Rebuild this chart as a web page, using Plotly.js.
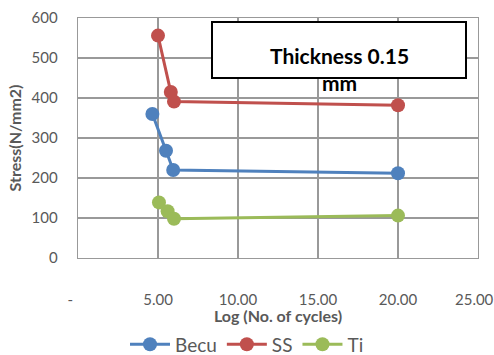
<!DOCTYPE html>
<html><head><meta charset="utf-8">
<script src="https://cdn.plot.ly/plotly-3.0.1.min.js"></script>
<style>html,body{margin:0;padding:0;background:#fff}#c{width:494px;height:355px}</style>
</head><body><div id="c"></div>
<script>
const becuX = [4.65, 5.5, 5.95, 20.0];
const becuY = [360, 268, 220, 212];
const ssX = [5.0, 5.8, 6.0, 20.0];
const ssY = [556, 415, 391, 382];
const tiX = [5.06, 5.6, 6.0, 20.0];
const tiY = [139, 117, 98, 106];
const xTickVals = [0, 5, 10, 15, 20, 25];
const xTickText = ["-\u00a0\u00a0\u00a0\u00a0", "5.00", "10.00", "15.00", "20.00", "25.00\u00a0\u00a0"];
const yTickVals = [0, 100, 200, 300, 400, 500, 600];

const F = "Lato, 'Open Sans', sans-serif";
function tr(x, y, name, color) {
  return {x: x, y: y, name: name, type: 'scatter', mode: 'lines+markers',
    line: {color: color, width: 3}, marker: {color: color, size: 14}};
}
const data = [
  tr(becuX, becuY, 'Becu', '#4F81BD'),
  tr(ssX, ssY, 'SS', '#C0504D'),
  tr(tiX, tiY, 'Ti', '#9BBB59')
];
const layout = {
  width: 494, height: 355,
  margin: {l: 78, r: 16, t: 18, b: 97},
  paper_bgcolor: '#fff', plot_bgcolor: '#fff',
  font: {family: F, color: '#595959'},
  showlegend: true,
  legend: {orientation: 'h', x: 0.5, xanchor: 'center', xref: 'container', y: 0.03, yanchor: 'middle', yref: 'container',
    font: {size: 19, color: '#595959', family: F}, itemwidth: 40, traceorder: 'normal'},
  xaxis: {range: [0, 25], tickvals: xTickVals, ticktext: xTickText, automargin: false,
    showgrid: true, gridcolor: '#999', gridwidth: 1.3, showline: true, linecolor: '#999', linewidth: 1.3,
    mirror: true, zeroline: false, ticks: '', ticklabelstandoff: 28, ticklabeloverflow: 'allow',
    tickfont: {size: 15, color: '#595959', family: F},
    title: {text: 'Log (No. of cycles)', font: {size: 16, color: '#595959', family: F, weight: 'bold'}, standoff: 6}},
  yaxis: {range: [0, 600], tickvals: yTickVals, automargin: false,
    showgrid: true, gridcolor: '#999', gridwidth: 1.3, showline: true, linecolor: '#999', linewidth: 1.3,
    mirror: true, zeroline: false, ticks: '', ticklabelstandoff: 16,
    tickfont: {size: 15, color: '#595959', family: F},
    title: {text: 'Stress(N/mm2)', font: {size: 16, color: '#595959', family: F, weight: 'bold'}, standoff: 6}},
  shapes: [{type: 'rect', xref: 'paper', yref: 'paper',
    x0: (212-78)/400, x1: (466-78)/400, y0: (258-78)/240, y1: (258-22)/240,
    line: {color: '#000', width: 2}, fillcolor: '#fff', layer: 'above'}],
  annotations: [{xref: 'paper', yref: 'paper', x: (339-78)/400, y: (258-69)/240,
    yanchor: 'middle', xanchor: 'center', showarrow: false, align: 'center',
    text: 'Thickness 0.15<br>mm', font: {size: 21, color: '#000', family: F, weight: 'bold'}}]
};
Plotly.newPlot('c', data, layout, {displayModeBar: false, staticPlot: true});
</script></body></html>
